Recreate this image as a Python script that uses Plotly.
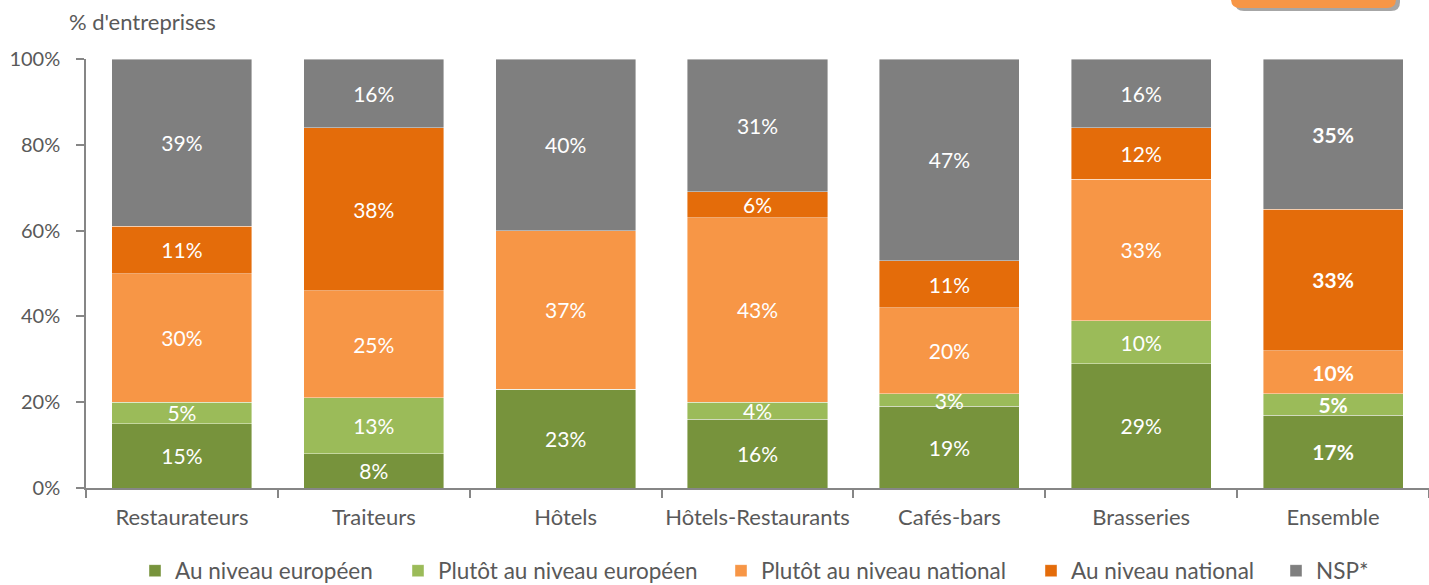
import plotly.graph_objects as go

categories = ["Restaurateurs", "Traiteurs", "Hôtels", "Hôtels-Restaurants", "Cafés-bars", "Brasseries", "Ensemble"]
series_names = ["Au niveau européen", "Plutôt au niveau européen", "Plutôt au niveau national", "Au niveau national", "NSP*"]
au_niveau_europeen = [15, 8, 23, 16, 19, 29, 17]
plutot_europeen = [5, 13, 0, 4, 3, 10, 5]
plutot_national = [30, 25, 37, 43, 20, 33, 10]
au_niveau_national = [11, 38, 0, 6, 11, 12, 33]
nsp = [39, 16, 40, 31, 47, 16, 35]
colors = ["#77933C", "#9BBB59", "#F79646", "#E46C0A", "#7F7F7F"]
y_ticks = [0, 20, 40, 60, 80, 100]

series_values = [au_niveau_europeen, plutot_europeen, plutot_national, au_niveau_national, nsp]

FONT = "Lato"
W, H = 1429, 585
L, R, T, B = 86, 0, 59, 97
pw, ph = W - L - R, H - T - B

# pixel position of each legend entry (layout only)
legend_px = [135, 398, 721, 1031, 1276]
legend_ids = ["legend", "legend2", "legend3", "legend4", "legend5"]

fig = go.Figure()
for name, vals, col, lid in zip(series_names, series_values, colors, legend_ids):
    texts = []
    for i, v in enumerate(vals):
        if v == 0:
            texts.append("")
        elif categories[i] == "Ensemble":
            texts.append(f"<b>{v}%</b>")
        else:
            texts.append(f"{v}%")
    fig.add_trace(go.Bar(
        x=categories, y=vals, name=name, legend=lid,
        marker=dict(color=col, line=dict(color="rgba(255,255,255,0.6)", width=0.7)),
        text=texts, texttemplate="%{text}", textposition="inside",
        insidetextanchor="middle", constraintext="none",
        textfont=dict(color="white", size=21, family=FONT),
        hoverinfo="skip",
    ))

def px_x(p):
    return (p - L) / pw

def px_y(p):
    return (H - B - p) / ph

def rounded_box(x0, x1, ytop, ybot, r):
    dx = r / pw
    dy = r / ph
    X0, X1 = px_x(x0), px_x(x1)
    YT, YB = px_y(ytop), px_y(ybot)
    return (f"M {X0},{YT} L {X1},{YT} L {X1},{YB + dy} Q {X1},{YB} {X1 - dx},{YB} "
            f"L {X0 + dx},{YB} Q {X0},{YB} {X0},{YB + dy} Z")

shapes = [
    dict(type="path", xref="paper", yref="paper", path=rounded_box(1235, 1400, -10, 11, 9),
         fillcolor="#A6A6A6", line=dict(width=0), layer="above"),
    dict(type="path", xref="paper", yref="paper", path=rounded_box(1231, 1396, -10, 8, 9),
         fillcolor="#F79646", line=dict(width=0), layer="above"),
]

legend_layouts = {}
for lid, lx in zip(legend_ids, legend_px):
    legend_layouts[lid] = dict(
        orientation="h", x=px_x(lx), xanchor="left", y=px_y(571), yanchor="middle",
        font=dict(family=FONT, size=22.5, color="#595959"),
        itemwidth=30, bgcolor="rgba(0,0,0,0)")

fig.update_layout(
    barmode="stack",
    bargap=0.27,
    width=W, height=H,
    margin=dict(l=L, r=R, t=T, b=B, autoexpand=False),
    plot_bgcolor="white", paper_bgcolor="white",
    font=dict(family=FONT, color="#595959", size=20),
    uniformtext=dict(minsize=21, mode="show"),
    shapes=shapes,
    showlegend=True,
    annotations=[dict(text="% d'entreprises", xref="paper", yref="paper",
                      x=px_x(67), y=px_y(22), xanchor="left", yanchor="middle",
                      showarrow=False, font=dict(family=FONT, size=22, color="#595959"))],
    xaxis=dict(showline=True, linecolor="#868686", linewidth=1.5, ticks="outside",
               tickson="boundaries", ticklen=8, tickcolor="#868686", tickwidth=1.5,
               ticklabelstandoff=9, tickangle=0,
               tickfont=dict(family=FONT, size=22, color="#595959"), showgrid=False),
    yaxis=dict(range=[0, 100], tickvals=y_ticks, ticktext=[f"{v}%" for v in y_ticks],
               showline=True, linecolor="#868686", linewidth=1.5, ticks="outside",
               ticklen=8, tickcolor="#868686", tickwidth=1.5, showgrid=False, zeroline=False,
               ticklabelstandoff=12,
               tickfont=dict(family=FONT, size=20, color="#595959")),
    **legend_layouts,
)

fig.write_html("out.html", config={"displayModeBar": False},
               post_script="document.body.style.margin='0';document.body.style.overflow='hidden';")
